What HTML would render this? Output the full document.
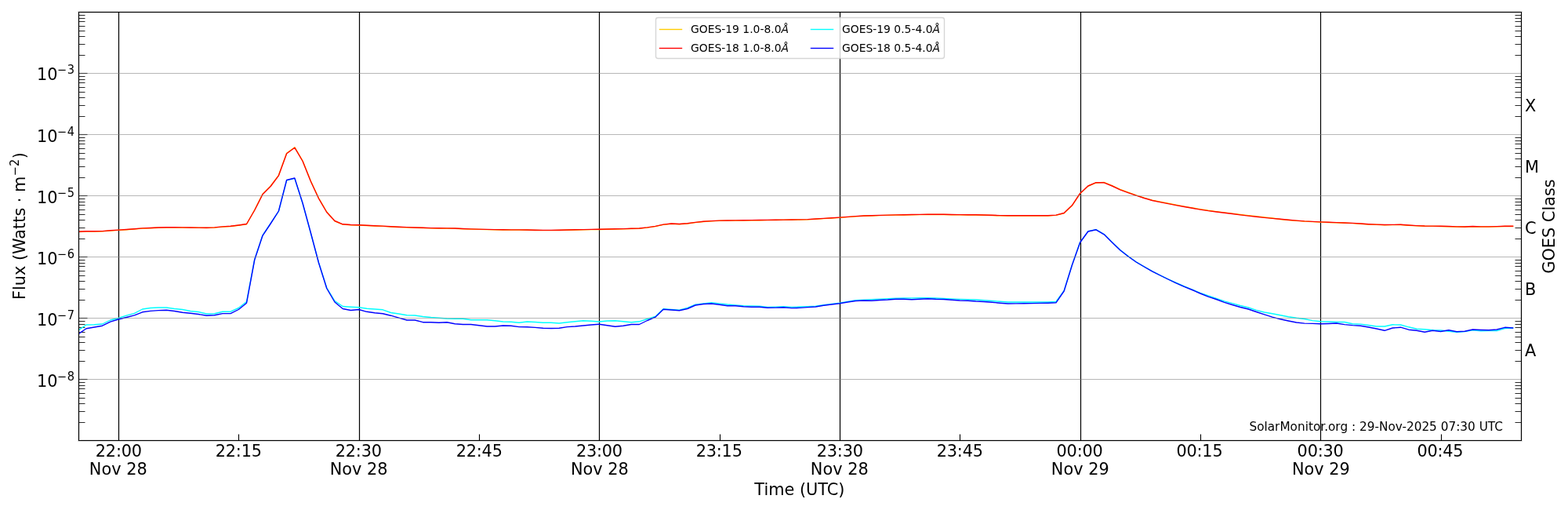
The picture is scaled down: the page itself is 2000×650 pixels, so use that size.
<!DOCTYPE html>
<html lang="en"><head><meta charset="utf-8"><title>GOES X-ray Flux</title>
<style>html,body{margin:0;padding:0;background:#fff;overflow:hidden}svg{display:block}text{font-family:"DejaVu Sans","Liberation Sans",sans-serif;fill:#000}.t{font-size:20.83px}.s{font-size:14.58px}.lg{font-size:13.89px}.an{font-size:15.3px}.ax{stroke:#000;stroke-width:1;shape-rendering:crispEdges;fill:none}.gr{stroke:#808080;stroke-opacity:0.57;stroke-width:1;shape-rendering:crispEdges;fill:none}.ln{fill:none;stroke-width:1.39;stroke-linejoin:round;stroke-linecap:square}</style></head><body>
<svg width="2000" height="650" viewBox="0 0 2000 650">
<rect width="2000" height="650" fill="#fff"/>
<rect x="150" y="15.5" width="3" height="546.0" fill="#000" fill-opacity="0.11"/>
<rect x="151" y="15.5" width="1" height="546.0" fill="#000"/>
<rect x="457" y="15.5" width="3" height="546.0" fill="#000" fill-opacity="0.11"/>
<rect x="458" y="15.5" width="1" height="546.0" fill="#000"/>
<rect x="763" y="15.5" width="3" height="546.0" fill="#000" fill-opacity="0.11"/>
<rect x="764" y="15.5" width="1" height="546.0" fill="#000"/>
<rect x="1070" y="15.5" width="3" height="546.0" fill="#000" fill-opacity="0.11"/>
<rect x="1071" y="15.5" width="1" height="546.0" fill="#000"/>
<rect x="1377" y="15.5" width="3" height="546.0" fill="#000" fill-opacity="0.11"/>
<rect x="1378" y="15.5" width="1" height="546.0" fill="#000"/>
<rect x="1683" y="15.5" width="3" height="546.0" fill="#000" fill-opacity="0.11"/>
<rect x="1684" y="15.5" width="1" height="546.0" fill="#000"/>
<rect x="101.00" y="19" width="7.50" height="1" fill="#000" fill-opacity="0.84"/>
<rect x="1932.50" y="19" width="7.50" height="1" fill="#000" fill-opacity="0.84"/>
<rect x="101.00" y="23" width="7.50" height="1" fill="#000" fill-opacity="0.84"/>
<rect x="1932.50" y="23" width="7.50" height="1" fill="#000" fill-opacity="0.84"/>
<rect x="101.00" y="27" width="7.50" height="1" fill="#000" fill-opacity="0.84"/>
<rect x="1932.50" y="27" width="7.50" height="1" fill="#000" fill-opacity="0.84"/>
<rect x="101.00" y="33" width="7.50" height="1" fill="#000" fill-opacity="0.84"/>
<rect x="1932.50" y="33" width="7.50" height="1" fill="#000" fill-opacity="0.84"/>
<rect x="101.00" y="39" width="7.50" height="1" fill="#000" fill-opacity="0.84"/>
<rect x="1932.50" y="39" width="7.50" height="1" fill="#000" fill-opacity="0.84"/>
<rect x="101.00" y="46" width="7.50" height="1" fill="#000" fill-opacity="0.84"/>
<rect x="1932.50" y="46" width="7.50" height="1" fill="#000" fill-opacity="0.84"/>
<rect x="101.00" y="56" width="7.50" height="1" fill="#000" fill-opacity="0.84"/>
<rect x="1932.50" y="56" width="7.50" height="1" fill="#000" fill-opacity="0.84"/>
<rect x="101.00" y="70" width="7.50" height="1" fill="#000" fill-opacity="0.84"/>
<rect x="1932.50" y="70" width="7.50" height="1" fill="#000" fill-opacity="0.84"/>
<rect x="101.00" y="97" width="7.50" height="1" fill="#000" fill-opacity="0.84"/>
<rect x="1932.50" y="97" width="7.50" height="1" fill="#000" fill-opacity="0.84"/>
<rect x="101.00" y="101" width="7.50" height="1" fill="#000" fill-opacity="0.84"/>
<rect x="1932.50" y="101" width="7.50" height="1" fill="#000" fill-opacity="0.84"/>
<rect x="101.00" y="105" width="7.50" height="1" fill="#000" fill-opacity="0.84"/>
<rect x="1932.50" y="105" width="7.50" height="1" fill="#000" fill-opacity="0.84"/>
<rect x="101.00" y="111" width="7.50" height="1" fill="#000" fill-opacity="0.84"/>
<rect x="1932.50" y="111" width="7.50" height="1" fill="#000" fill-opacity="0.84"/>
<rect x="101.00" y="117" width="7.50" height="1" fill="#000" fill-opacity="0.84"/>
<rect x="1932.50" y="117" width="7.50" height="1" fill="#000" fill-opacity="0.84"/>
<rect x="101.00" y="124" width="7.50" height="1" fill="#000" fill-opacity="0.84"/>
<rect x="1932.50" y="124" width="7.50" height="1" fill="#000" fill-opacity="0.84"/>
<rect x="101.00" y="134" width="7.50" height="1" fill="#000" fill-opacity="0.84"/>
<rect x="1932.50" y="134" width="7.50" height="1" fill="#000" fill-opacity="0.84"/>
<rect x="101.00" y="148" width="7.50" height="1" fill="#000" fill-opacity="0.84"/>
<rect x="1932.50" y="148" width="7.50" height="1" fill="#000" fill-opacity="0.84"/>
<rect x="101.00" y="175" width="7.50" height="1" fill="#000" fill-opacity="0.84"/>
<rect x="1932.50" y="175" width="7.50" height="1" fill="#000" fill-opacity="0.84"/>
<rect x="101.00" y="179" width="7.50" height="1" fill="#000" fill-opacity="0.84"/>
<rect x="1932.50" y="179" width="7.50" height="1" fill="#000" fill-opacity="0.84"/>
<rect x="101.00" y="183" width="7.50" height="1" fill="#000" fill-opacity="0.84"/>
<rect x="1932.50" y="183" width="7.50" height="1" fill="#000" fill-opacity="0.84"/>
<rect x="101.00" y="189" width="7.50" height="1" fill="#000" fill-opacity="0.84"/>
<rect x="1932.50" y="189" width="7.50" height="1" fill="#000" fill-opacity="0.84"/>
<rect x="101.00" y="195" width="7.50" height="1" fill="#000" fill-opacity="0.84"/>
<rect x="1932.50" y="195" width="7.50" height="1" fill="#000" fill-opacity="0.84"/>
<rect x="101.00" y="202" width="7.50" height="1" fill="#000" fill-opacity="0.84"/>
<rect x="1932.50" y="202" width="7.50" height="1" fill="#000" fill-opacity="0.84"/>
<rect x="101.00" y="212" width="7.50" height="1" fill="#000" fill-opacity="0.84"/>
<rect x="1932.50" y="212" width="7.50" height="1" fill="#000" fill-opacity="0.84"/>
<rect x="101.00" y="226" width="7.50" height="1" fill="#000" fill-opacity="0.84"/>
<rect x="1932.50" y="226" width="7.50" height="1" fill="#000" fill-opacity="0.84"/>
<rect x="101.00" y="253" width="7.50" height="1" fill="#000" fill-opacity="0.84"/>
<rect x="1932.50" y="253" width="7.50" height="1" fill="#000" fill-opacity="0.84"/>
<rect x="101.00" y="257" width="7.50" height="1" fill="#000" fill-opacity="0.84"/>
<rect x="1932.50" y="257" width="7.50" height="1" fill="#000" fill-opacity="0.84"/>
<rect x="101.00" y="261" width="7.50" height="1" fill="#000" fill-opacity="0.84"/>
<rect x="1932.50" y="261" width="7.50" height="1" fill="#000" fill-opacity="0.84"/>
<rect x="101.00" y="267" width="7.50" height="1" fill="#000" fill-opacity="0.84"/>
<rect x="1932.50" y="267" width="7.50" height="1" fill="#000" fill-opacity="0.84"/>
<rect x="101.00" y="273" width="7.50" height="1" fill="#000" fill-opacity="0.84"/>
<rect x="1932.50" y="273" width="7.50" height="1" fill="#000" fill-opacity="0.84"/>
<rect x="101.00" y="280" width="7.50" height="1" fill="#000" fill-opacity="0.84"/>
<rect x="1932.50" y="280" width="7.50" height="1" fill="#000" fill-opacity="0.84"/>
<rect x="101.00" y="290" width="7.50" height="1" fill="#000" fill-opacity="0.84"/>
<rect x="1932.50" y="290" width="7.50" height="1" fill="#000" fill-opacity="0.84"/>
<rect x="101.00" y="304" width="7.50" height="1" fill="#000" fill-opacity="0.84"/>
<rect x="1932.50" y="304" width="7.50" height="1" fill="#000" fill-opacity="0.84"/>
<rect x="101.00" y="331" width="7.50" height="1" fill="#000" fill-opacity="0.84"/>
<rect x="1932.50" y="331" width="7.50" height="1" fill="#000" fill-opacity="0.84"/>
<rect x="101.00" y="335" width="7.50" height="1" fill="#000" fill-opacity="0.84"/>
<rect x="1932.50" y="335" width="7.50" height="1" fill="#000" fill-opacity="0.84"/>
<rect x="101.00" y="339" width="7.50" height="1" fill="#000" fill-opacity="0.84"/>
<rect x="1932.50" y="339" width="7.50" height="1" fill="#000" fill-opacity="0.84"/>
<rect x="101.00" y="345" width="7.50" height="1" fill="#000" fill-opacity="0.84"/>
<rect x="1932.50" y="345" width="7.50" height="1" fill="#000" fill-opacity="0.84"/>
<rect x="101.00" y="351" width="7.50" height="1" fill="#000" fill-opacity="0.84"/>
<rect x="1932.50" y="351" width="7.50" height="1" fill="#000" fill-opacity="0.84"/>
<rect x="101.00" y="358" width="7.50" height="1" fill="#000" fill-opacity="0.84"/>
<rect x="1932.50" y="358" width="7.50" height="1" fill="#000" fill-opacity="0.84"/>
<rect x="101.00" y="368" width="7.50" height="1" fill="#000" fill-opacity="0.84"/>
<rect x="1932.50" y="368" width="7.50" height="1" fill="#000" fill-opacity="0.84"/>
<rect x="101.00" y="382" width="7.50" height="1" fill="#000" fill-opacity="0.84"/>
<rect x="1932.50" y="382" width="7.50" height="1" fill="#000" fill-opacity="0.84"/>
<rect x="101.00" y="409" width="7.50" height="1" fill="#000" fill-opacity="0.84"/>
<rect x="1932.50" y="409" width="7.50" height="1" fill="#000" fill-opacity="0.84"/>
<rect x="101.00" y="413" width="7.50" height="1" fill="#000" fill-opacity="0.84"/>
<rect x="1932.50" y="413" width="7.50" height="1" fill="#000" fill-opacity="0.84"/>
<rect x="101.00" y="417" width="7.50" height="1" fill="#000" fill-opacity="0.84"/>
<rect x="1932.50" y="417" width="7.50" height="1" fill="#000" fill-opacity="0.84"/>
<rect x="101.00" y="423" width="7.50" height="1" fill="#000" fill-opacity="0.84"/>
<rect x="1932.50" y="423" width="7.50" height="1" fill="#000" fill-opacity="0.84"/>
<rect x="101.00" y="429" width="7.50" height="1" fill="#000" fill-opacity="0.84"/>
<rect x="1932.50" y="429" width="7.50" height="1" fill="#000" fill-opacity="0.84"/>
<rect x="101.00" y="436" width="7.50" height="1" fill="#000" fill-opacity="0.84"/>
<rect x="1932.50" y="436" width="7.50" height="1" fill="#000" fill-opacity="0.84"/>
<rect x="101.00" y="446" width="7.50" height="1" fill="#000" fill-opacity="0.84"/>
<rect x="1932.50" y="446" width="7.50" height="1" fill="#000" fill-opacity="0.84"/>
<rect x="101.00" y="460" width="7.50" height="1" fill="#000" fill-opacity="0.84"/>
<rect x="1932.50" y="460" width="7.50" height="1" fill="#000" fill-opacity="0.84"/>
<rect x="101.00" y="487" width="7.50" height="1" fill="#000" fill-opacity="0.84"/>
<rect x="1932.50" y="487" width="7.50" height="1" fill="#000" fill-opacity="0.84"/>
<rect x="101.00" y="491" width="7.50" height="1" fill="#000" fill-opacity="0.84"/>
<rect x="1932.50" y="491" width="7.50" height="1" fill="#000" fill-opacity="0.84"/>
<rect x="101.00" y="495" width="7.50" height="1" fill="#000" fill-opacity="0.84"/>
<rect x="1932.50" y="495" width="7.50" height="1" fill="#000" fill-opacity="0.84"/>
<rect x="101.00" y="501" width="7.50" height="1" fill="#000" fill-opacity="0.84"/>
<rect x="1932.50" y="501" width="7.50" height="1" fill="#000" fill-opacity="0.84"/>
<rect x="101.00" y="507" width="7.50" height="1" fill="#000" fill-opacity="0.84"/>
<rect x="1932.50" y="507" width="7.50" height="1" fill="#000" fill-opacity="0.84"/>
<rect x="101.00" y="514" width="7.50" height="1" fill="#000" fill-opacity="0.84"/>
<rect x="1932.50" y="514" width="7.50" height="1" fill="#000" fill-opacity="0.84"/>
<rect x="101.00" y="524" width="7.50" height="1" fill="#000" fill-opacity="0.84"/>
<rect x="1932.50" y="524" width="7.50" height="1" fill="#000" fill-opacity="0.84"/>
<rect x="101.00" y="538" width="7.50" height="1" fill="#000" fill-opacity="0.84"/>
<rect x="1932.50" y="538" width="7.50" height="1" fill="#000" fill-opacity="0.84"/>
<rect x="101.00" y="93" width="10.50" height="1" fill="#000"/>
<rect x="101.00" y="92" width="10.50" height="1" fill="#000" fill-opacity="0.06"/>
<rect x="101.00" y="94" width="10.50" height="1" fill="#000" fill-opacity="0.06"/>
<rect x="101.00" y="171" width="10.50" height="1" fill="#000"/>
<rect x="101.00" y="170" width="10.50" height="1" fill="#000" fill-opacity="0.06"/>
<rect x="101.00" y="172" width="10.50" height="1" fill="#000" fill-opacity="0.06"/>
<rect x="101.00" y="249" width="10.50" height="1" fill="#000"/>
<rect x="101.00" y="248" width="10.50" height="1" fill="#000" fill-opacity="0.06"/>
<rect x="101.00" y="250" width="10.50" height="1" fill="#000" fill-opacity="0.06"/>
<rect x="101.00" y="327" width="10.50" height="1" fill="#000"/>
<rect x="101.00" y="326" width="10.50" height="1" fill="#000" fill-opacity="0.06"/>
<rect x="101.00" y="328" width="10.50" height="1" fill="#000" fill-opacity="0.06"/>
<rect x="101.00" y="405" width="10.50" height="1" fill="#000"/>
<rect x="101.00" y="404" width="10.50" height="1" fill="#000" fill-opacity="0.06"/>
<rect x="101.00" y="406" width="10.50" height="1" fill="#000" fill-opacity="0.06"/>
<rect x="101.00" y="483" width="10.50" height="1" fill="#000"/>
<rect x="101.00" y="482" width="10.50" height="1" fill="#000" fill-opacity="0.06"/>
<rect x="101.00" y="484" width="10.50" height="1" fill="#000" fill-opacity="0.06"/>
<defs><clipPath id="cp"><rect x="100.2" y="15.3" width="1840.0" height="546.0"/></clipPath></defs>
<g clip-path="url(#cp)">
<path class="ln" stroke="#ffcc00" d="M99.85 295.55 L110.07 295.05 L120.29 294.95 L130.52 294.85 L140.74 294.05 L150.96 293.35 L161.18 292.75 L171.41 292.05 L181.63 291.15 L191.85 290.75 L202.07 290.25 L212.29 289.95 L222.52 290.05 L232.74 290.15 L242.96 290.25 L253.18 290.35 L263.41 290.45 L273.63 290.15 L283.85 289.15 L294.07 288.55 L304.29 287.25 L314.52 285.75 L324.74 267.50 L334.96 247.30 L345.18 237.00 L355.41 223.30 L365.63 195.30 L375.85 187.70 L386.07 205.00 L396.29 230.50 L406.52 252.50 L416.74 270.00 L426.96 281.75 L437.18 286.05 L447.41 286.75 L457.63 287.05 L467.85 287.45 L478.07 287.95 L488.29 288.35 L498.52 288.98 L508.74 289.47 L518.96 289.93 L529.18 290.25 L539.41 290.55 L549.63 290.85 L559.85 290.99 L570.07 291.13 L580.29 291.29 L590.52 291.70 L600.74 292.09 L610.96 292.36 L621.18 292.63 L631.41 292.87 L641.63 292.97 L651.85 293.07 L662.07 293.18 L672.29 293.29 L682.52 293.45 L692.74 293.60 L702.96 293.63 L713.18 293.44 L723.41 293.25 L733.63 293.06 L743.85 292.87 L754.07 292.68 L764.29 292.49 L774.52 292.27 L784.74 292.05 L794.96 291.83 L805.18 291.55 L815.41 291.25 L825.63 290.15 L835.85 288.65 L846.07 286.35 L856.29 285.30 L866.52 285.75 L876.74 285.00 L886.96 283.64 L897.18 282.50 L907.41 281.83 L917.63 281.39 L927.85 281.26 L938.07 281.13 L948.29 280.99 L958.52 280.86 L968.74 280.74 L978.96 280.62 L989.18 280.50 L999.41 280.38 L1009.63 280.25 L1019.85 280.13 L1030.07 279.86 L1040.29 279.24 L1050.52 278.63 L1060.74 277.98 L1070.96 277.34 L1081.18 276.61 L1091.41 275.89 L1101.63 275.22 L1111.85 274.94 L1122.07 274.67 L1132.29 274.39 L1142.52 274.14 L1152.74 273.96 L1162.96 273.78 L1173.18 273.60 L1183.41 273.45 L1193.63 273.45 L1203.85 273.48 L1214.07 273.72 L1224.29 273.91 L1234.52 273.97 L1244.74 274.02 L1254.96 274.25 L1265.18 274.55 L1275.41 274.85 L1285.63 274.95 L1295.85 274.95 L1306.07 274.95 L1316.29 274.95 L1326.52 274.95 L1336.74 274.95 L1346.96 274.35 L1357.18 271.75 L1367.41 262.05 L1377.63 246.75 L1387.85 237.25 L1398.07 232.95 L1408.29 232.40 L1418.52 236.60 L1428.74 241.40 L1438.96 245.20 L1449.18 248.80 L1459.41 252.12 L1469.63 255.06 L1479.85 257.20 L1490.07 259.19 L1500.29 261.22 L1510.52 263.06 L1520.74 264.89 L1530.96 266.67 L1541.18 268.28 L1551.41 269.59 L1561.63 270.88 L1571.85 272.16 L1582.07 273.44 L1592.29 274.67 L1602.52 275.80 L1612.74 276.92 L1622.96 277.98 L1633.18 279.55 L1643.41 280.47 L1653.63 281.34 L1663.85 282.16 L1674.07 282.65 L1684.29 283.12 L1694.52 283.48 L1704.74 283.84 L1714.96 284.24 L1725.18 284.67 L1735.41 285.26 L1745.63 285.94 L1755.85 286.42 L1766.07 286.80 L1776.29 286.61 L1786.52 286.53 L1796.74 287.19 L1806.96 287.85 L1817.18 288.29 L1827.41 288.43 L1837.63 288.55 L1847.85 288.75 L1858.07 289.17 L1868.29 289.20 L1878.52 288.77 L1888.74 289.15 L1898.96 289.15 L1909.18 288.85 L1919.41 288.54 L1929.63 288.45"/>
<path class="ln" stroke="#ff0000" d="M99.85 295.30 L110.07 294.80 L120.29 294.70 L130.52 294.60 L140.74 293.80 L150.96 293.10 L161.18 292.50 L171.41 291.80 L181.63 290.90 L191.85 290.50 L202.07 290.00 L212.29 289.70 L222.52 289.80 L232.74 289.90 L242.96 290.00 L253.18 290.10 L263.41 290.20 L273.63 289.90 L283.85 288.90 L294.07 288.30 L304.29 287.00 L314.52 285.50 L324.74 268.00 L334.96 247.80 L345.18 237.50 L355.41 223.80 L365.63 195.80 L375.85 188.20 L386.07 205.50 L396.29 231.00 L406.52 253.00 L416.74 270.50 L426.96 281.50 L437.18 285.80 L447.41 286.50 L457.63 286.80 L467.85 287.20 L478.07 287.70 L488.29 288.10 L498.52 288.73 L508.74 289.22 L518.96 289.68 L529.18 290.00 L539.41 290.30 L549.63 290.60 L559.85 290.74 L570.07 290.88 L580.29 291.04 L590.52 291.45 L600.74 291.84 L610.96 292.11 L621.18 292.38 L631.41 292.62 L641.63 292.72 L651.85 292.82 L662.07 292.93 L672.29 293.04 L682.52 293.20 L692.74 293.35 L702.96 293.38 L713.18 293.19 L723.41 293.00 L733.63 292.81 L743.85 292.62 L754.07 292.43 L764.29 292.24 L774.52 292.02 L784.74 291.80 L794.96 291.58 L805.18 291.30 L815.41 291.00 L825.63 289.90 L835.85 288.40 L846.07 286.10 L856.29 285.05 L866.52 285.50 L876.74 284.75 L886.96 283.39 L897.18 282.25 L907.41 281.58 L917.63 281.14 L927.85 281.01 L938.07 280.88 L948.29 280.74 L958.52 280.61 L968.74 280.49 L978.96 280.37 L989.18 280.25 L999.41 280.13 L1009.63 280.00 L1019.85 279.88 L1030.07 279.61 L1040.29 278.99 L1050.52 278.38 L1060.74 277.73 L1070.96 277.09 L1081.18 276.36 L1091.41 275.64 L1101.63 274.97 L1111.85 274.69 L1122.07 274.42 L1132.29 274.14 L1142.52 273.89 L1152.74 273.71 L1162.96 273.53 L1173.18 273.35 L1183.41 273.20 L1193.63 273.20 L1203.85 273.23 L1214.07 273.47 L1224.29 273.66 L1234.52 273.72 L1244.74 273.77 L1254.96 274.00 L1265.18 274.30 L1275.41 274.60 L1285.63 274.70 L1295.85 274.70 L1306.07 274.70 L1316.29 274.70 L1326.52 274.70 L1336.74 274.70 L1346.96 274.10 L1357.18 271.50 L1367.41 261.80 L1377.63 246.50 L1387.85 237.00 L1398.07 232.70 L1408.29 232.80 L1418.52 237.00 L1428.74 241.80 L1438.96 245.60 L1449.18 249.20 L1459.41 252.52 L1469.63 255.46 L1479.85 257.60 L1490.07 259.59 L1500.29 261.62 L1510.52 263.46 L1520.74 265.29 L1530.96 267.07 L1541.18 268.68 L1551.41 269.99 L1561.63 271.28 L1571.85 272.56 L1582.07 273.84 L1592.29 275.07 L1602.52 276.20 L1612.74 277.32 L1622.96 278.38 L1633.18 279.30 L1643.41 280.22 L1653.63 281.09 L1663.85 281.91 L1674.07 282.40 L1684.29 282.87 L1694.52 283.23 L1704.74 283.59 L1714.96 283.99 L1725.18 284.42 L1735.41 285.01 L1745.63 285.69 L1755.85 286.17 L1766.07 286.55 L1776.29 286.36 L1786.52 286.28 L1796.74 286.94 L1806.96 287.60 L1817.18 288.04 L1827.41 288.18 L1837.63 288.30 L1847.85 288.50 L1858.07 288.92 L1868.29 288.95 L1878.52 288.52 L1888.74 288.90 L1898.96 288.90 L1909.18 288.60 L1919.41 288.29 L1929.63 288.20"/>
<path class="ln" stroke="#00ffff" d="M99.85 420.90 L110.07 414.00 L120.29 413.70 L130.52 413.00 L140.74 408.00 L150.96 405.50 L161.18 402.20 L171.41 399.30 L181.63 394.00 L191.85 392.50 L202.07 392.00 L212.29 392.00 L222.52 393.50 L232.74 394.50 L242.96 396.50 L253.18 397.50 L263.41 400.00 L273.63 399.70 L283.85 397.20 L294.07 397.20 L304.29 392.50 L314.52 384.50 L324.74 330.70 L334.96 300.00 L345.18 284.70 L355.41 269.35 L365.63 229.85 L375.85 227.35 L386.07 259.35 L396.29 296.85 L406.52 334.70 L416.74 366.80 L426.96 383.50 L437.18 390.50 L447.41 391.20 L457.63 391.80 L467.85 393.30 L478.07 394.00 L488.29 394.80 L498.52 398.50 L508.74 400.00 L518.96 401.80 L529.18 402.00 L539.41 403.50 L549.63 404.50 L559.85 405.20 L570.07 406.00 L580.29 406.20 L590.52 406.20 L600.74 407.70 L610.96 407.70 L621.18 407.80 L631.41 408.80 L641.63 410.00 L651.85 410.20 L662.07 411.20 L672.29 410.00 L682.52 410.50 L692.74 411.30 L702.96 411.20 L713.18 412.00 L723.41 410.80 L733.63 409.80 L743.85 408.80 L754.07 409.30 L764.29 410.00 L774.52 409.00 L784.74 408.80 L794.96 409.80 L805.18 410.70 L815.41 409.80 L825.63 406.50 L835.85 403.50 L846.07 393.80 L856.29 394.50 L866.52 395.20 L876.74 392.43 L886.96 388.13 L897.18 386.91 L907.41 385.71 L917.63 386.87 L927.85 388.03 L938.07 388.85 L948.29 389.62 L958.52 389.93 L968.74 390.18 L978.96 391.45 L989.18 391.11 L999.41 390.70 L1009.63 391.49 L1019.85 391.05 L1030.07 390.60 L1040.29 390.07 L1050.52 388.69 L1060.74 387.34 L1070.96 386.10 L1081.18 384.43 L1091.41 382.70 L1101.63 382.16 L1111.85 381.63 L1122.07 381.10 L1132.29 380.57 L1142.52 380.16 L1152.74 380.03 L1162.96 379.90 L1173.18 379.78 L1183.41 379.80 L1193.63 380.06 L1203.85 380.42 L1214.07 380.91 L1224.29 381.40 L1234.52 381.73 L1244.74 382.05 L1254.96 382.80 L1265.18 383.50 L1275.41 384.20 L1285.63 385.00 L1295.85 385.00 L1306.07 385.00 L1316.29 385.00 L1326.52 385.00 L1336.74 385.00 L1346.96 384.50 L1357.18 370.50 L1367.41 337.80 L1377.63 308.80 L1387.85 294.80 L1398.07 292.60 L1408.29 298.60 L1418.52 308.80 L1428.74 318.60 L1438.96 326.60 L1449.18 333.80 L1459.41 339.80 L1469.63 345.60 L1479.85 350.80 L1490.07 355.80 L1500.29 360.50 L1510.52 365.00 L1520.74 369.10 L1530.96 373.50 L1541.18 377.00 L1551.41 380.50 L1561.63 383.80 L1571.85 386.70 L1582.07 389.50 L1592.29 392.00 L1602.52 395.30 L1612.74 398.00 L1622.96 399.80 L1633.18 401.80 L1643.41 403.80 L1653.63 405.30 L1663.85 406.50 L1674.07 408.60 L1684.29 409.70 L1694.52 410.00 L1704.74 410.50 L1714.96 410.50 L1725.18 412.80 L1735.41 413.10 L1745.63 414.50 L1755.85 416.00 L1766.07 416.00 L1776.29 413.80 L1786.52 414.00 L1796.74 416.80 L1806.96 419.20 L1817.18 419.80 L1827.41 420.80 L1837.63 421.00 L1847.85 422.30 L1858.07 423.20 L1868.29 422.60 L1878.52 420.80 L1888.74 421.80 L1898.96 421.60 L1909.18 421.60 L1919.41 418.50 L1929.63 418.00"/>
<path class="ln" stroke="#0000ff" d="M99.85 425.70 L110.07 418.70 L120.29 417.00 L130.52 415.20 L140.74 410.20 L150.96 407.00 L161.18 404.50 L171.41 401.80 L181.63 397.80 L191.85 396.40 L202.07 395.60 L212.29 395.20 L222.52 396.50 L232.74 398.20 L242.96 399.20 L253.18 400.50 L263.41 402.20 L273.63 401.70 L283.85 399.60 L294.07 399.60 L304.29 394.50 L314.52 386.20 L324.74 331.00 L334.96 300.30 L345.18 285.00 L355.41 269.00 L365.63 229.50 L375.85 227.00 L386.07 259.00 L396.29 296.50 L406.52 335.00 L416.74 367.50 L426.96 385.00 L437.18 393.50 L447.41 395.50 L457.63 394.50 L467.85 397.30 L478.07 398.70 L488.29 399.80 L498.52 402.20 L508.74 405.20 L518.96 408.00 L529.18 408.00 L539.41 410.70 L549.63 410.80 L559.85 411.20 L570.07 410.80 L580.29 412.80 L590.52 413.50 L600.74 413.50 L610.96 414.70 L621.18 416.00 L631.41 416.00 L641.63 415.00 L651.85 415.30 L662.07 416.60 L672.29 416.70 L682.52 417.40 L692.74 418.30 L702.96 418.50 L713.18 418.20 L723.41 416.60 L733.63 416.00 L743.85 415.00 L754.07 414.00 L764.29 413.20 L774.52 414.80 L784.74 416.30 L794.96 415.20 L805.18 413.50 L815.41 413.50 L825.63 408.50 L835.85 404.20 L846.07 394.20 L856.29 395.00 L866.52 395.80 L876.74 393.50 L886.96 389.00 L897.18 387.50 L907.41 387.00 L917.63 388.30 L927.85 389.80 L938.07 389.80 L948.29 390.80 L958.52 391.20 L968.74 391.20 L978.96 392.20 L989.18 392.10 L999.41 391.80 L1009.63 392.60 L1019.85 392.40 L1030.07 391.60 L1040.29 391.00 L1050.52 389.30 L1060.74 388.00 L1070.96 386.80 L1081.18 385.00 L1091.41 383.50 L1101.63 383.00 L1111.85 383.30 L1122.07 382.50 L1132.29 382.00 L1142.52 381.20 L1152.74 381.30 L1162.96 381.80 L1173.18 381.20 L1183.41 380.70 L1193.63 381.30 L1203.85 381.50 L1214.07 382.20 L1224.29 383.00 L1234.52 383.20 L1244.74 384.00 L1254.96 384.50 L1265.18 385.30 L1275.41 386.20 L1285.63 387.00 L1295.85 386.90 L1306.07 386.80 L1316.29 386.60 L1326.52 386.40 L1336.74 386.20 L1346.96 385.80 L1357.18 371.00 L1367.41 338.00 L1377.63 309.00 L1387.85 295.00 L1398.07 292.80 L1408.29 298.80 L1418.52 309.00 L1428.74 318.80 L1438.96 326.80 L1449.18 334.00 L1459.41 340.00 L1469.63 345.80 L1479.85 351.00 L1490.07 356.00 L1500.29 360.80 L1510.52 365.30 L1520.74 369.50 L1530.96 374.00 L1541.18 378.20 L1551.41 381.50 L1561.63 385.30 L1571.85 388.50 L1582.07 391.50 L1592.29 394.00 L1602.52 397.50 L1612.74 400.80 L1622.96 404.20 L1633.18 406.80 L1643.41 409.00 L1653.63 411.00 L1663.85 412.10 L1674.07 412.40 L1684.29 412.80 L1694.52 412.50 L1704.74 412.00 L1714.96 413.60 L1725.18 414.60 L1735.41 415.20 L1745.63 417.00 L1755.85 419.00 L1766.07 421.30 L1776.29 418.00 L1786.52 417.20 L1796.74 420.20 L1806.96 421.20 L1817.18 423.20 L1827.41 421.20 L1837.63 422.50 L1847.85 420.70 L1858.07 422.70 L1868.29 422.20 L1878.52 420.00 L1888.74 420.50 L1898.96 420.80 L1909.18 420.00 L1919.41 417.30 L1929.63 418.00"/>
</g>
<line class="gr" x1="100.5" y1="483.5" x2="1940.5" y2="483.5"/>
<line class="gr" x1="100.5" y1="405.5" x2="1940.5" y2="405.5"/>
<line class="gr" x1="100.5" y1="327.5" x2="1940.5" y2="327.5"/>
<line class="gr" x1="100.5" y1="249.5" x2="1940.5" y2="249.5"/>
<line class="gr" x1="100.5" y1="171.5" x2="1940.5" y2="171.5"/>
<line class="gr" x1="100.5" y1="93.5" x2="1940.5" y2="93.5"/>
<rect x="304" y="553.50" width="1" height="7.50" fill="#000"/>
<rect x="303" y="553.50" width="1" height="7.50" fill="#000" fill-opacity="0.055"/>
<rect x="305" y="553.50" width="1" height="7.50" fill="#000" fill-opacity="0.055"/>
<rect x="611" y="553.50" width="1" height="7.50" fill="#000"/>
<rect x="610" y="553.50" width="1" height="7.50" fill="#000" fill-opacity="0.055"/>
<rect x="612" y="553.50" width="1" height="7.50" fill="#000" fill-opacity="0.055"/>
<rect x="918" y="553.50" width="1" height="7.50" fill="#000"/>
<rect x="917" y="553.50" width="1" height="7.50" fill="#000" fill-opacity="0.055"/>
<rect x="919" y="553.50" width="1" height="7.50" fill="#000" fill-opacity="0.055"/>
<rect x="1224" y="553.50" width="1" height="7.50" fill="#000"/>
<rect x="1223" y="553.50" width="1" height="7.50" fill="#000" fill-opacity="0.055"/>
<rect x="1225" y="553.50" width="1" height="7.50" fill="#000" fill-opacity="0.055"/>
<rect x="1531" y="553.50" width="1" height="7.50" fill="#000"/>
<rect x="1530" y="553.50" width="1" height="7.50" fill="#000" fill-opacity="0.055"/>
<rect x="1532" y="553.50" width="1" height="7.50" fill="#000" fill-opacity="0.055"/>
<rect x="1838" y="553.50" width="1" height="7.50" fill="#000"/>
<rect x="1837" y="553.50" width="1" height="7.50" fill="#000" fill-opacity="0.055"/>
<rect x="1839" y="553.50" width="1" height="7.50" fill="#000" fill-opacity="0.055"/>
<rect x="100.5" y="15.5" width="1840.0" height="546.0" fill="none" stroke="#000" stroke-opacity="0.11" stroke-width="3" shape-rendering="crispEdges"/>
<rect class="ax" x="100.5" y="15.5" width="1840.0" height="546.0"/>
<text class="t" x="73.5" y="493.1" text-anchor="end">10</text>
<text class="s" x="72.7" y="484.8">−</text>
<text class="s" transform="translate(85.73,484.8) scale(1,1.12)">8</text>
<text class="t" x="73.5" y="415.1" text-anchor="end">10</text>
<text class="s" x="72.7" y="406.8">−</text>
<text class="s" transform="translate(85.73,406.8) scale(1,1.12)">7</text>
<text class="t" x="73.5" y="337.1" text-anchor="end">10</text>
<text class="s" x="72.7" y="328.8">−</text>
<text class="s" transform="translate(85.73,328.8) scale(1,1.12)">6</text>
<text class="t" x="73.5" y="259.1" text-anchor="end">10</text>
<text class="s" x="72.7" y="250.8">−</text>
<text class="s" transform="translate(85.73,250.8) scale(1,1.12)">5</text>
<text class="t" x="73.5" y="181.1" text-anchor="end">10</text>
<text class="s" x="72.7" y="172.8">−</text>
<text class="s" transform="translate(85.73,172.8) scale(1,1.12)">4</text>
<text class="t" x="73.5" y="102.1" text-anchor="end">10</text>
<text class="s" x="72.7" y="93.8">−</text>
<text class="s" transform="translate(85.73,93.8) scale(1,1.12)">3</text>
<text class="t" x="151.30" y="581.8" text-anchor="middle" letter-spacing="-0.2">22:00</text>
<text class="t" x="150.76" y="605" text-anchor="middle">Nov 28</text>
<text class="t" x="304.25" y="581.8" text-anchor="middle" letter-spacing="-0.2">22:15</text>
<text class="t" x="457.25" y="581.8" text-anchor="middle" letter-spacing="-0.2">22:30</text>
<text class="t" x="457.68" y="605" text-anchor="middle">Nov 28</text>
<text class="t" x="611.18" y="581.8" text-anchor="middle" letter-spacing="-0.2">22:45</text>
<text class="t" x="764.41" y="581.8" text-anchor="middle" letter-spacing="-0.2">23:00</text>
<text class="t" x="764.78" y="605" text-anchor="middle">Nov 28</text>
<text class="t" x="917.18" y="581.8" text-anchor="middle" letter-spacing="-0.2">23:15</text>
<text class="t" x="1071.29" y="581.8" text-anchor="middle" letter-spacing="-0.2">23:30</text>
<text class="t" x="1070.76" y="605" text-anchor="middle">Nov 28</text>
<text class="t" x="1224.27" y="581.8" text-anchor="middle" letter-spacing="-0.2">23:45</text>
<text class="t" x="1377.07" y="581.8" text-anchor="middle" letter-spacing="-0.2">00:00</text>
<text class="t" x="1377.75" y="605" text-anchor="middle">Nov 29</text>
<text class="t" x="1529.95" y="581.8" text-anchor="middle" letter-spacing="-0.2">00:15</text>
<text class="t" x="1684.10" y="581.8" text-anchor="middle" letter-spacing="-0.2">00:30</text>
<text class="t" x="1684.85" y="605" text-anchor="middle">Nov 29</text>
<text class="t" x="1836.92" y="581.8" text-anchor="middle" letter-spacing="-0.2">00:45</text>
<text class="t" x="1019.9" y="631" text-anchor="middle">Time (UTC)</text>
<g transform="translate(32.0,288.5) rotate(-90)">
<text class="t" x="-93.5" y="0">Flux (Watts · m</text>
<text class="s" x="64.1" y="-8.3">−</text>
<text class="s" transform="translate(76.53,-8.3) scale(1,1.12)">2</text>
<text class="t" x="86.2" y="0">)</text>
</g>
<text class="t" x="1945" y="141.9">X</text>
<text class="t" x="1945" y="219.9">M</text>
<text class="t" x="1945" y="297.9">C</text>
<text class="t" x="1945" y="375.9">B</text>
<text class="t" x="1945" y="453.9">A</text>
<text class="t" transform="translate(1983,288.5) rotate(-90)" text-anchor="middle">GOES Class</text>
<text class="an" x="1917" y="549" text-anchor="end">SolarMonitor.org : 29-Nov-2025 07:30 UTC</text>
<rect x="836.5" y="22.5" width="368" height="52" rx="2.8" ry="2.8" fill="#fff" fill-opacity="0.8" stroke="#ccc" stroke-opacity="0.8" stroke-width="1.39"/>
<line x1="840.8" y1="37.5" x2="870.2" y2="37.5" stroke="#ffcc00" stroke-width="1.39"/>
<text class="lg" x="881.0" y="42.4">GOES-19 1.0-8.0<tspan font-style="italic">Å</tspan></text>
<line x1="840.8" y1="61.5" x2="870.2" y2="61.5" stroke="#ff0000" stroke-width="1.39"/>
<text class="lg" x="881.0" y="65.9">GOES-18 1.0-8.0<tspan font-style="italic">Å</tspan></text>
<line x1="1033.8" y1="37.5" x2="1063.2" y2="37.5" stroke="#00ffff" stroke-width="1.39"/>
<text class="lg" x="1074.0" y="42.4">GOES-19 0.5-4.0<tspan font-style="italic">Å</tspan></text>
<line x1="1033.8" y1="61.5" x2="1063.2" y2="61.5" stroke="#0000ff" stroke-width="1.39"/>
<text class="lg" x="1074.0" y="65.9">GOES-18 0.5-4.0<tspan font-style="italic">Å</tspan></text>
</svg></body></html>
